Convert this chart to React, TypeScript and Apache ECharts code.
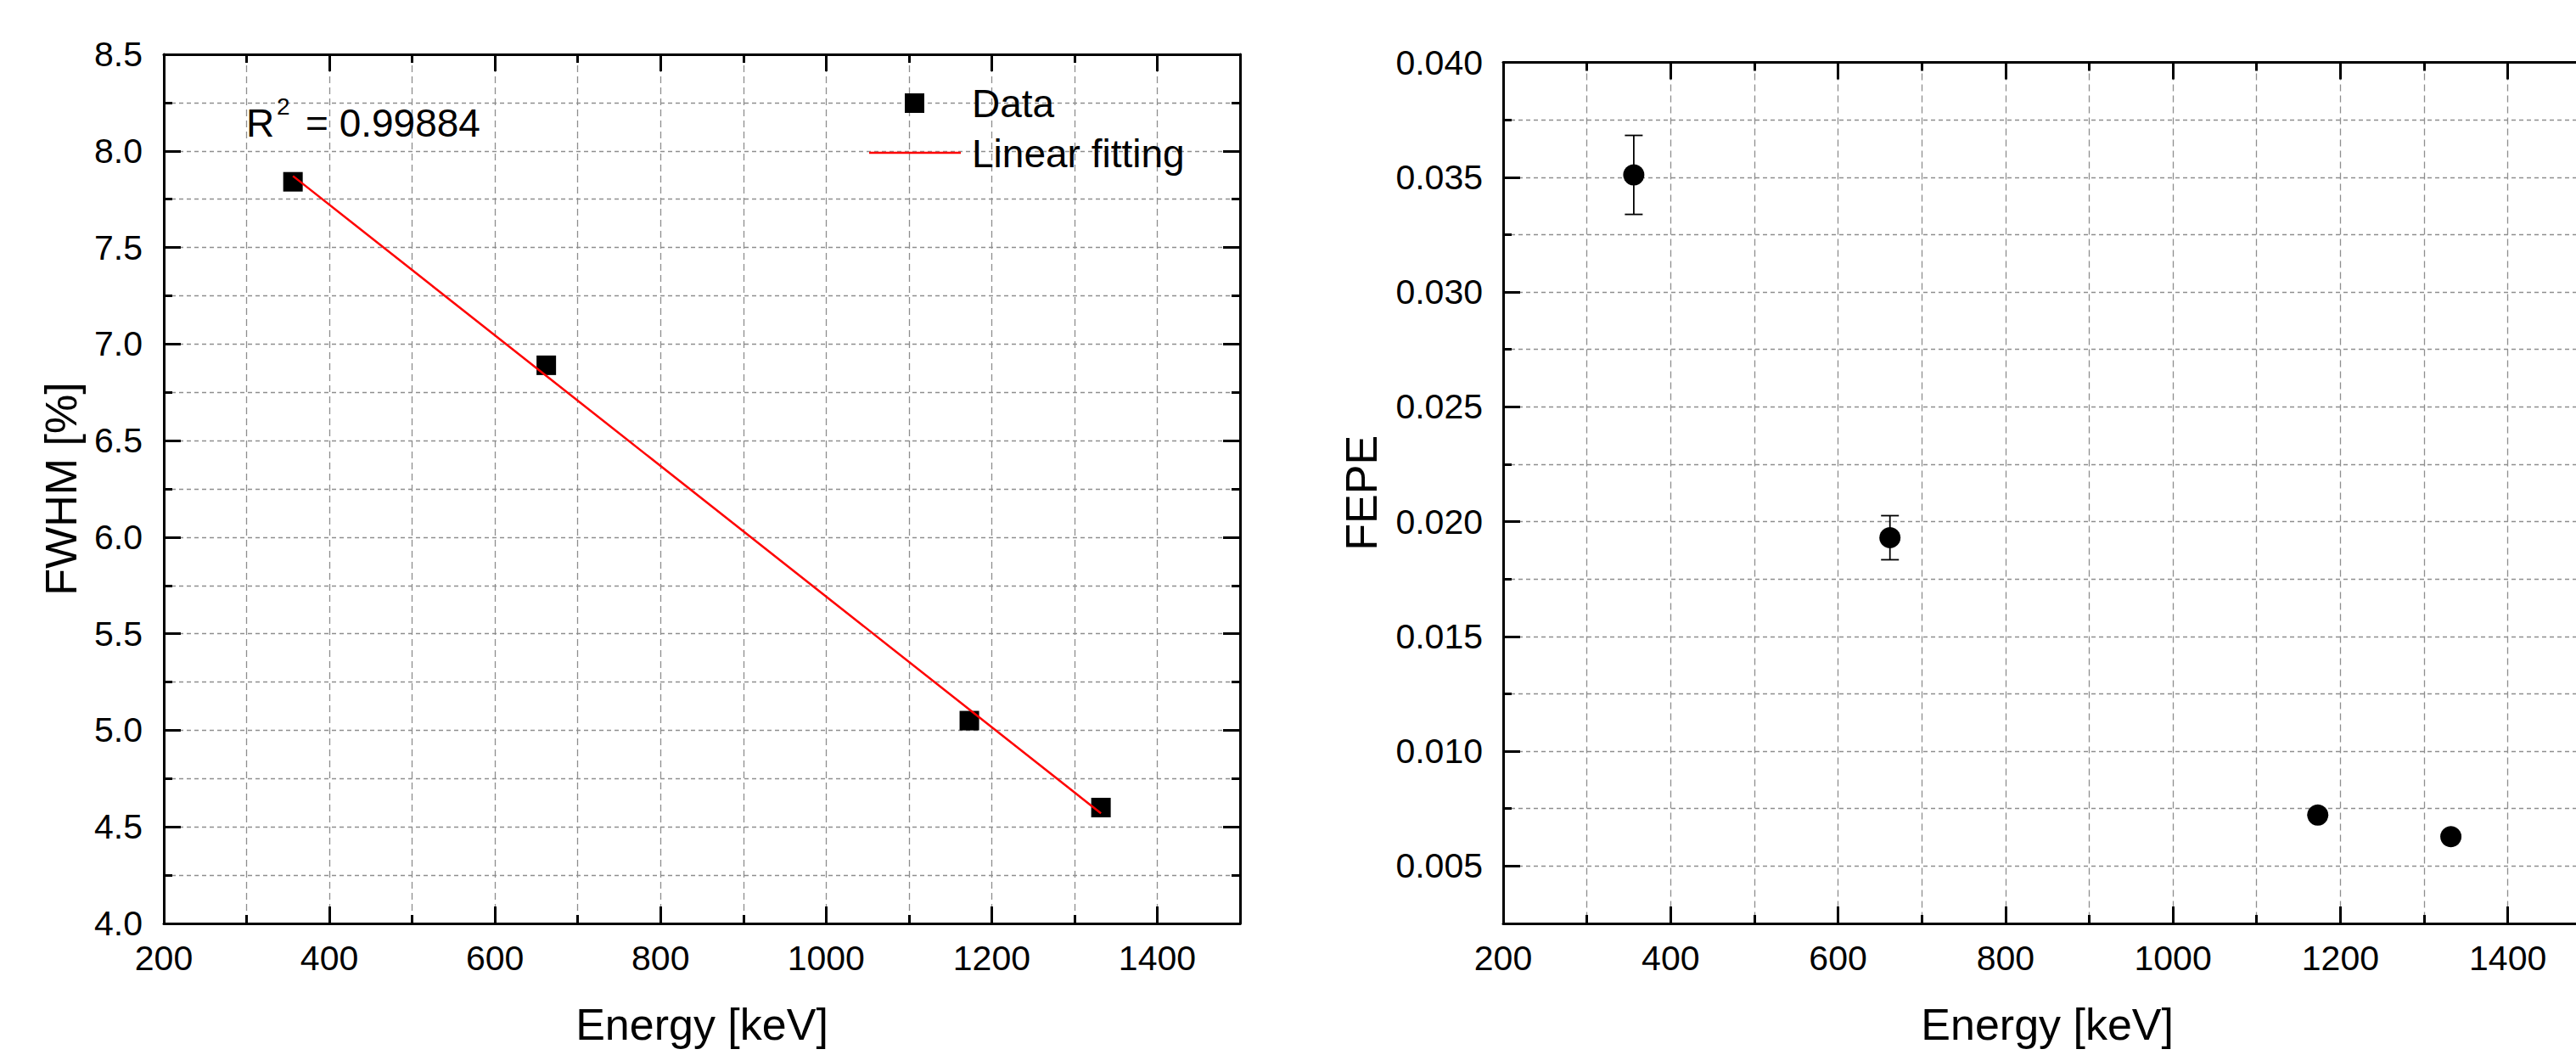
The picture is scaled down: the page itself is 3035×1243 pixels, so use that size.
import React, { useEffect, useRef } from 'react';
import * as echarts from 'echarts';

// ---- Data ----
const energy = [356, 662, 1173, 1332];          // keV
const fwhm = [7.84, 6.89, 5.05, 4.6];            // %
const fitEnergy = [356, 1332];
const fitFwhm = [7.87, 4.57];
const fepe = [0.0351, 0.0193, 0.00722, 0.00628];
const fepeErr = [0.00172, 0.00096, 0.00015, 0.00015];
const r2Text = '= 0.99884';
const legendNames = ['Data', 'Linear fitting'];

const xMin = 200;
const xMax = 1500;
const xMajor = 200;
const xMinor = 100;
const fwhmMin = 4;
const fwhmMax = 8.5;
const fwhmStep = 0.5;
const fepeMin = 0.0025;
const fepeMax = 0.04;
const fepeMajor = 0.005;
const fepeMinor = 0.0025;

const FONT = "'Liberation Sans', Arial, Helvetica, sans-serif";
const BLACK = '#000';
const GRIDC = '#8e8e8e';
const TICK_FS = 41;
const NAME_FS = 52;

const dashedV = { show: true, lineStyle: { color: GRIDC, width: 1.3, type: [8, 5] as any } };
const dashedH = { show: true, lineStyle: { color: GRIDC, width: 1.3, type: [5, 4] as any } };

function xAxisCfg(gridIndex: number, position: 'top' | 'bottom', major: boolean, extra: any = {}) {
  return {
    type: 'value',
    gridIndex,
    position,
    min: xMin,
    max: xMax,
    interval: major ? xMajor : xMinor,
    axisLine: { show: major, onZero: false, lineStyle: { color: BLACK, width: 3 } },
    axisTick: { show: true, inside: true, length: major ? 20 : 10, lineStyle: { color: BLACK, width: 3 } },
    axisLabel: { show: false },
    splitLine: { show: false },
    ...extra,
  };
}

export default function App() {
  const ref = useRef<HTMLDivElement>(null);

  useEffect(() => {
    document.body.style.margin = '0';
    const chart = echarts.init(ref.current!, null, { renderer: 'svg' });

    const xLabel = {
      show: true,
      color: BLACK,
      fontFamily: FONT,
      fontSize: TICK_FS,
      margin: 20,
      formatter: (v: number) => ((v - xMin) % xMajor === 0 && v < xMax ? String(v) : ''),
    };
    const xName = {
      name: 'Energy [keV]',
      nameLocation: 'middle',
      nameGap: 93,
      nameTextStyle: { color: BLACK, fontFamily: FONT, fontSize: NAME_FS },
    };

    const errorBars = (params: any, api: any) => {
      const x = api.value(0);
      const y = api.value(1);
      const e = api.value(2);
      const top = api.coord([x, y + e]);
      const bot = api.coord([x, y - e]);
      const hw = 10.5;
      const st = { stroke: BLACK, lineWidth: 1.8, opacity: 1 };
      return {
        type: 'group',
        children: [
          { type: 'line', shape: { x1: top[0], y1: top[1], x2: bot[0], y2: bot[1] }, style: st },
          { type: 'line', shape: { x1: top[0] - hw, y1: top[1], x2: top[0] + hw, y2: top[1] }, style: st },
          { type: 'line', shape: { x1: bot[0] - hw, y1: bot[1], x2: bot[0] + hw, y2: bot[1] }, style: st },
        ],
      };
    };

    const option: any = {
      animation: false,
      backgroundColor: '#fff',
      grid: [
        { left: 193, top: 64, width: 1268, height: 1024, containLabel: false, outerBoundsMode: 'none' },
        { left: 1771, top: 73.5, width: 1282.3, height: 1014.5, containLabel: false, outerBoundsMode: 'none' },
      ],
      xAxis: [
        xAxisCfg(0, 'bottom', true, { axisLabel: xLabel, ...xName }),
        xAxisCfg(0, 'bottom', false, { splitLine: dashedV }),
        xAxisCfg(0, 'top', true),
        xAxisCfg(0, 'top', false),
        xAxisCfg(1, 'bottom', true, { axisLabel: xLabel, ...xName }),
        xAxisCfg(1, 'bottom', false, { splitLine: dashedV }),
        xAxisCfg(1, 'top', true),
        xAxisCfg(1, 'top', false),
      ],
      yAxis: [
        {
          type: 'value',
          gridIndex: 0,
          position: 'left',
          min: fwhmMin,
          max: fwhmMax,
          interval: fwhmStep,
          axisLine: { show: true, onZero: false, lineStyle: { color: BLACK, width: 3 } },
          axisTick: { show: true, inside: true, length: 20, lineStyle: { color: BLACK, width: 3 } },
          minorTick: { show: true, splitNumber: 2, length: 10, lineStyle: { color: BLACK, width: 3 } },
          splitLine: dashedH,
          minorSplitLine: dashedH,
          axisLabel: {
            show: true,
            color: BLACK,
            fontFamily: FONT,
            fontSize: TICK_FS,
            margin: 25,
            formatter: (v: number) => v.toFixed(1),
          },
          name: 'FWHM [%]',
          nameLocation: 'middle',
          nameGap: 95,
          nameTextStyle: { color: BLACK, fontFamily: FONT, fontSize: NAME_FS },
        },
        {
          type: 'value',
          gridIndex: 0,
          position: 'right',
          min: fwhmMin,
          max: fwhmMax,
          interval: fwhmStep,
          axisLine: { show: true, onZero: false, lineStyle: { color: BLACK, width: 3 } },
          axisTick: { show: true, inside: true, length: 20, lineStyle: { color: BLACK, width: 3 } },
          minorTick: { show: true, splitNumber: 2, length: 10, lineStyle: { color: BLACK, width: 3 } },
          splitLine: { show: false },
          axisLabel: { show: false },
        },
        {
          type: 'value',
          gridIndex: 1,
          position: 'left',
          min: fepeMin,
          max: fepeMax,
          interval: fepeMinor,
          axisLine: { show: true, onZero: false, lineStyle: { color: BLACK, width: 3 } },
          axisTick: { show: true, inside: true, length: 10, lineStyle: { color: BLACK, width: 3 } },
          splitLine: dashedH,
          axisLabel: {
            show: true,
            color: BLACK,
            fontFamily: FONT,
            fontSize: TICK_FS,
            margin: 24,
            formatter: (v: number) => (Math.round(v / fepeMinor) % 2 === 0 ? v.toFixed(3) : ''),
          },
          name: 'FEPE',
          nameLocation: 'middle',
          nameGap: 141,
          nameTextStyle: { color: BLACK, fontFamily: FONT, fontSize: NAME_FS },
        },
        {
          type: 'value',
          gridIndex: 1,
          position: 'left',
          min: fepeMin,
          max: fepeMax,
          minInterval: fepeMajor,
          maxInterval: fepeMajor,
          axisLine: { show: false, onZero: false },
          axisTick: { show: true, inside: true, length: 20, lineStyle: { color: BLACK, width: 3 } },
          splitLine: { show: false },
          axisLabel: { show: false },
        },
      ],
      series: [
        {
          type: 'scatter',
          name: legendNames[0],
          xAxisIndex: 0,
          yAxisIndex: 0,
          symbol: 'rect',
          symbolSize: 23,
          itemStyle: { color: BLACK, opacity: 1 },
          data: energy.map((x, i) => [x, fwhm[i]]),
          z: 4,
        },
        {
          type: 'line',
          name: legendNames[1],
          xAxisIndex: 0,
          yAxisIndex: 0,
          symbol: 'none',
          lineStyle: { color: '#ff0000', width: 2.5, opacity: 1 },
          data: fitEnergy.map((x, i) => [x, fitFwhm[i]]),
          z: 5,
        },
        {
          type: 'custom',
          xAxisIndex: 4,
          yAxisIndex: 2,
          renderItem: errorBars,
          data: energy.map((x, i) => [x, fepe[i], fepeErr[i]]),
          encode: { x: 0, y: 1 },
          z: 3,
        },
        {
          type: 'scatter',
          xAxisIndex: 4,
          yAxisIndex: 2,
          symbol: 'circle',
          symbolSize: 25,
          itemStyle: { color: BLACK, opacity: 1 },
          data: energy.map((x, i) => [x, fepe[i]]),
          z: 4,
        },
      ],
      graphic: [
        // R^2 annotation
        { type: 'text', x: 290, y: 145, z: 10, style: { text: 'R', fill: BLACK, fontFamily: FONT, fontSize: 46, align: 'left', verticalAlign: 'middle' } },
        { type: 'text', x: 326, y: 125, z: 10, style: { text: '2', fill: BLACK, fontFamily: FONT, fontSize: 28, align: 'left', verticalAlign: 'middle' } },
        { type: 'text', x: 360, y: 145, z: 10, style: { text: r2Text, fill: BLACK, fontFamily: FONT, fontSize: 46, align: 'left', verticalAlign: 'middle' } },
        // legend
        { type: 'rect', z: 10, shape: { x: 1066, y: 110, width: 23, height: 23 }, style: { fill: BLACK } },
        { type: 'line', z: 10, shape: { x1: 1024, y1: 180, x2: 1132, y2: 180 }, style: { stroke: '#ff0000', lineWidth: 2.5 } },
        { type: 'text', x: 1145, y: 122, z: 10, style: { text: legendNames[0], fill: BLACK, fontFamily: FONT, fontSize: 46, align: 'left', verticalAlign: 'middle' } },
        { type: 'text', x: 1145, y: 181, z: 10, style: { text: legendNames[1], fill: BLACK, fontFamily: FONT, fontSize: 46, align: 'left', verticalAlign: 'middle' } },
      ],
    };

    chart.setOption(option);
    return () => chart.dispose();
  }, []);

  return (
    <div
      ref={ref}
      style={{ position: 'absolute', left: 0, top: 0, width: 3035, height: 1243, background: '#fff' }}
    />
  );
}
